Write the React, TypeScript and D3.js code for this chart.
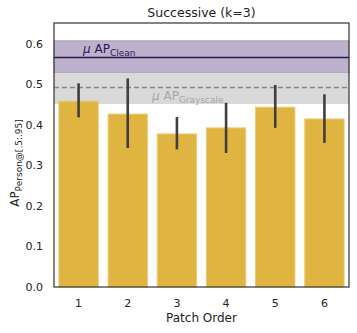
import React from 'react';
import * as d3 from 'd3';

const orders = ['1', '2', '3', '4', '5', '6'];
const meanAP = [0.459, 0.427, 0.378, 0.393, 0.444, 0.415];
const errLow = [0.419, 0.343, 0.34, 0.331, 0.393, 0.356];
const errHigh = [0.503, 0.515, 0.42, 0.455, 0.499, 0.476];
const yTicks = [0.0, 0.1, 0.2, 0.3, 0.4, 0.5, 0.6];

const clean = { mean: 0.567, low: 0.529, high: 0.608 };
const gray = { mean: 0.493, low: 0.452, high: 0.527 };

const W = 357;
const H = 333;
const margin = { top: 23, right: 8, bottom: 46, left: 54 };
const font = 'DejaVu Sans, sans-serif';

const App = () => {
  const innerW = W - margin.left - margin.right;
  const innerH = H - margin.top - margin.bottom;

  const x = d3.scaleBand().domain(orders).range([0, innerW]).paddingInner(0.2).paddingOuter(0.1);
  const y = d3.scaleLinear().domain([0, 0.652]).range([innerH, 0]);

  return (
    <svg width={W} height={H} style={{ position: 'absolute', left: 0, top: 0 }} fontFamily={font}>
      <rect width={W} height={H} fill="#fff" />
      <text x={margin.left + innerW / 2} y={17} textAnchor="middle" fontSize={12.5} fill="#222">
        Successive (k=3)
      </text>
      <g transform={`translate(${margin.left},${margin.top})`}>
        {/* grayscale band */}
        <rect x={0} width={innerW} y={y(gray.high)} height={y(gray.low) - y(gray.high)} fill="#d9d9d9" />
        <line x1={0} x2={innerW} y1={y(gray.mean)} y2={y(gray.mean)} stroke="#888" strokeWidth={1.5} strokeDasharray="5,3" />
        <text x={98} y={y(gray.mean) + 13} fontSize={12} fill="#a6a6a6">
          <tspan fontStyle="italic">μ</tspan> AP
          <tspan fontSize={9} dy={3}>Grayscale</tspan>
        </text>
        {/* clean band */}
        <rect x={0} width={innerW} y={y(clean.high)} height={y(clean.low) - y(clean.high)} fill="#bdb2cb" stroke="#ada0bd" strokeWidth={1} />
        <line x1={0} x2={innerW} y1={y(clean.mean)} y2={y(clean.mean)} stroke="#2a1758" strokeWidth={1.5} />
        <text x={29} y={y(clean.mean) - 4} fontSize={12} fill="#2a1758">
          <tspan fontStyle="italic">μ</tspan> AP
          <tspan fontSize={9} dy={3}>Clean</tspan>
        </text>
        {/* bars */}
        {orders.map((o, i) => (
          <rect
            key={o}
            x={x(o)}
            width={x.bandwidth()}
            y={y(meanAP[i])}
            height={innerH - y(meanAP[i])}
            fill="#e0b441"
            stroke="#ebca76"
            strokeWidth={1}
          />
        ))}
        {/* error bars */}
        {orders.map((o, i) => (
          <line
            key={o}
            x1={x(o) + x.bandwidth() / 2}
            x2={x(o) + x.bandwidth() / 2}
            y1={y(errLow[i])}
            y2={y(errHigh[i])}
            stroke="#3f3f3f"
            strokeWidth={2.6}
          />
        ))}
        {/* frame */}
        <rect x={0} y={0} width={innerW} height={innerH} fill="none" stroke="#333" strokeWidth={1.2} />
        {yTicks.map(t => (
          <text key={t} x={-11} y={y(t)} dy="0.35em" textAnchor="end" fontSize={11} fill="#222">
            {t.toFixed(1)}
          </text>
        ))}
        {orders.map(o => (
          <text key={o} x={x(o) + x.bandwidth() / 2} y={innerH + 20} textAnchor="middle" fontSize={11} fill="#222">
            {o}
          </text>
        ))}
        <text x={innerW / 2} y={innerH + 35} textAnchor="middle" fontSize={12} fill="#222">
          Patch Order
        </text>
        <text transform={`translate(${-35},${innerH / 2 + 8}) rotate(-90)`} textAnchor="middle" fontSize={12} fill="#222">
          AP<tspan fontSize={9} dy={3}>Person@[.5:.95]</tspan>
        </text>
      </g>
    </svg>
  );
};

export default App;
